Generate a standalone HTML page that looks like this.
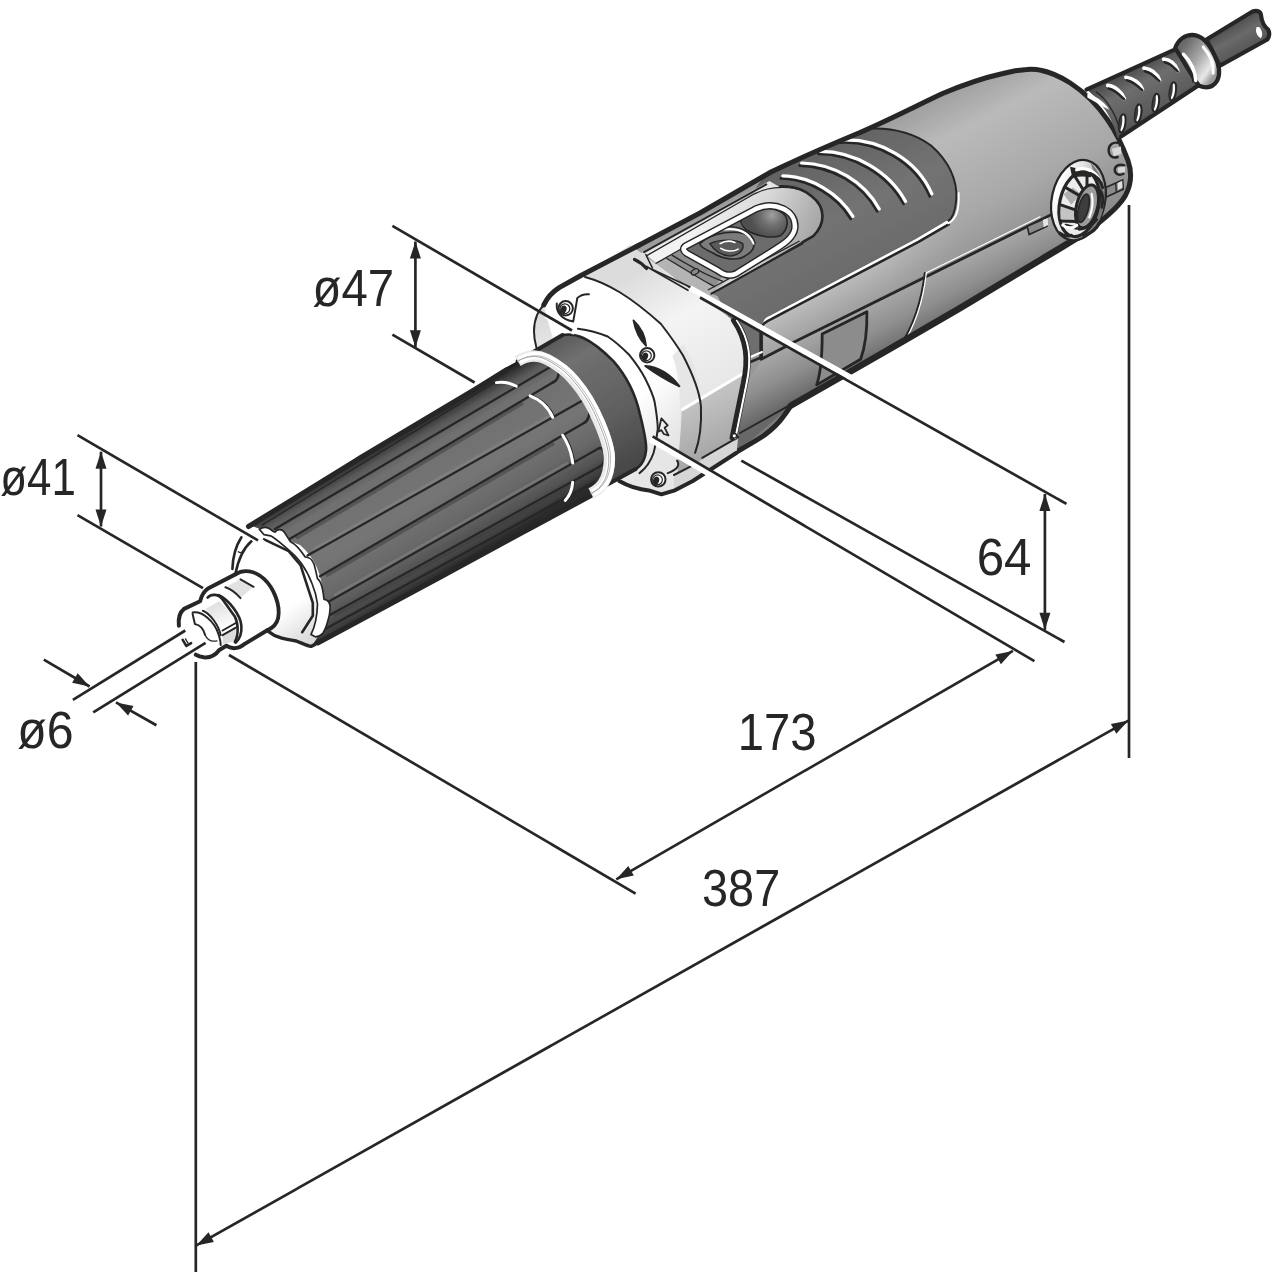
<!DOCTYPE html>
<html>
<head>
<meta charset="utf-8">
<title>Dimension drawing</title>
<style>
html,body{margin:0;padding:0;background:#fff;}
body{width:1280px;height:1277px;overflow:hidden;font-family:"Liberation Sans",sans-serif;}
svg{display:block;}
.dl{stroke:#272725;stroke-width:2.7;fill:none;stroke-linecap:butt;}
.wl{stroke:#fff;stroke-width:4.5;fill:none;stroke-linecap:butt;}
.ah{fill:#272725;stroke:none;}
.t{font-family:"Liberation Sans",sans-serif;font-size:52px;fill:#272725;}
.k{stroke:#272725;fill:none;stroke-linecap:round;stroke-linejoin:round;vector-effect:non-scaling-stroke;}
.k1{stroke-width:1.3;} .k2{stroke-width:2;} .k3{stroke-width:3;} .k4{stroke-width:4;}
.w{stroke:#fff;fill:none;stroke-linecap:round;stroke-linejoin:round;vector-effect:non-scaling-stroke;}
.ns{vector-effect:non-scaling-stroke;}
.bt{stroke-linecap:butt;}
</style>
</head>
<body>
<svg width="1280" height="1277" viewBox="0 0 1280 1277">
<defs>
<filter id="soft" x="0" y="0" width="1280" height="1277" filterUnits="userSpaceOnUse"><feGaussianBlur stdDeviation="0.45"/></filter>
<linearGradient id="gBody" gradientUnits="userSpaceOnUse" x1="900" y1="90" x2="1010" y2="300">
<stop offset="0" stop-color="#868686"/><stop offset="0.1" stop-color="#a0a0a0"/><stop offset="0.27" stop-color="#bababa"/><stop offset="0.6" stop-color="#a8a8a8"/><stop offset="1" stop-color="#7c7c7c"/></linearGradient>
<linearGradient id="gStrip" gradientUnits="userSpaceOnUse" x1="780" y1="290" x2="805" y2="335">
<stop offset="0" stop-color="#cfcfcf"/><stop offset="1" stop-color="#a2a2a2"/></linearGradient>
<linearGradient id="gPanel" gradientUnits="userSpaceOnUse" x1="850" y1="300" x2="880" y2="360">
<stop offset="0" stop-color="#b2b2b2"/><stop offset="0.6" stop-color="#8e8e8e"/><stop offset="1" stop-color="#686868"/></linearGradient>
<linearGradient id="gInlay" gradientUnits="userSpaceOnUse" x1="820" y1="150" x2="880" y2="270">
<stop offset="0" stop-color="#636363"/><stop offset="0.5" stop-color="#737373"/><stop offset="1" stop-color="#6a6a6a"/></linearGradient>
<clipPath id="cBody"><path d="M630,250 L700,213 L771,172 C800,158 830,145 860,132.5 C890,119.5 915,106.5 942,93.8 C965,84 985,77.5 1003,73.5 C1012,71 1020,69.8 1027,69.5 C1042,68 1056,74 1070.3,83 C1085,92.5 1098,106 1107.9,120.3 C1116,132 1123,147 1127.9,160.4 C1132,172 1131,185 1125.4,195.5 C1119,207 1105,218 1095.3,225.5 C1085,233 1072,241 1060.2,248.1 L960,308.2 L900.2,342.9 L840,377.5 L791,405.5 C788,410 786,413 783,417 C778,424 770,431 764,435.5 C755,441.5 745,447 738,451 L690,478 L640,440 Z"/></clipPath>
<linearGradient id="gFade" gradientUnits="userSpaceOnUse" x1="880" y1="270" x2="965" y2="225"><stop offset="0" stop-color="#fff"/><stop offset="1" stop-color="#000"/></linearGradient>
<mask id="mFade" maskUnits="userSpaceOnUse" x="600" y="0" width="680" height="600"><rect x="600" y="0" width="680" height="600" fill="url(#gFade)"/></mask>
<linearGradient id="gCable" gradientUnits="userSpaceOnUse" x1="1225" y1="25" x2="1245" y2="60">
<stop offset="0" stop-color="#4a4a4a"/><stop offset="0.4" stop-color="#6a6a6a"/><stop offset="1" stop-color="#4e4e4e"/></linearGradient>
<linearGradient id="gRelief" gradientUnits="userSpaceOnUse" x1="1130" y1="65" x2="1160" y2="120">
<stop offset="0" stop-color="#454545"/><stop offset="0.35" stop-color="#6e6e6e"/><stop offset="1" stop-color="#525252"/></linearGradient>
<linearGradient id="gRing" gradientUnits="userSpaceOnUse" x1="1180" y1="50" x2="1215" y2="75">
<stop offset="0" stop-color="#6a6a6a"/><stop offset="0.45" stop-color="#a8a8a8"/><stop offset="0.8" stop-color="#e8e8e8"/><stop offset="1" stop-color="#9a9a9a"/></linearGradient>
<linearGradient id="gBc" gradientUnits="userSpaceOnUse" x1="1054" y1="200" x2="1104" y2="205">
<stop offset="0" stop-color="#ffffff"/><stop offset="0.35" stop-color="#e4e4e4"/><stop offset="1" stop-color="#8e8e8e"/></linearGradient>
<linearGradient id="gFl" gradientUnits="userSpaceOnUse" x1="640" y1="270" x2="720" y2="420">
<stop offset="0" stop-color="#dcdcdc"/><stop offset="0.35" stop-color="#f4f4f4"/><stop offset="1" stop-color="#e2e2e2"/></linearGradient>
<linearGradient id="gFlSide" gradientUnits="userSpaceOnUse" x1="700" y1="400" x2="730" y2="470">
<stop offset="0" stop-color="#c2c2c2"/><stop offset="1" stop-color="#9c9c9c"/></linearGradient>
<linearGradient id="gFlFace" gradientUnits="userSpaceOnUse" x1="560" y1="300" x2="690" y2="420">
<stop offset="0" stop-color="#ffffff"/><stop offset="0.7" stop-color="#ffffff"/><stop offset="1" stop-color="#e6e6e6"/></linearGradient>
<linearGradient id="gGrip" gradientUnits="userSpaceOnUse" x1="360" y1="455" x2="433" y2="579">
<stop offset="0" stop-color="#1f1f1f"/><stop offset="0.04" stop-color="#353535"/><stop offset="0.1" stop-color="#585858"/><stop offset="0.2" stop-color="#707070"/>
<stop offset="0.5" stop-color="#757575"/><stop offset="0.72" stop-color="#6a6a6a"/><stop offset="0.86" stop-color="#555555"/><stop offset="0.95" stop-color="#3e3e3e"/><stop offset="1" stop-color="#2a2a2a"/></linearGradient>
<linearGradient id="gCollar" gradientUnits="userSpaceOnUse" x1="560" y1="330" x2="640" y2="470">
<stop offset="0" stop-color="#555555"/><stop offset="0.2" stop-color="#707070"/><stop offset="0.6" stop-color="#606060"/><stop offset="1" stop-color="#444444"/></linearGradient>
<linearGradient id="gCone" gradientUnits="userSpaceOnUse" x1="255" y1="560" x2="310" y2="640">
<stop offset="0" stop-color="#ffffff"/><stop offset="0.6" stop-color="#ffffff"/><stop offset="1" stop-color="#dadada"/></linearGradient>
<linearGradient id="gNut" gradientUnits="userSpaceOnUse" x1="225" y1="600" x2="245" y2="650">
<stop offset="0" stop-color="#e0e0e0"/><stop offset="0.5" stop-color="#ffffff"/><stop offset="1" stop-color="#c8c8c8"/></linearGradient>
<linearGradient id="gSur" gradientUnits="userSpaceOnUse" x1="700" y1="215" x2="800" y2="260">
<stop offset="0" stop-color="#f2f2f2"/><stop offset="0.5" stop-color="#d8d8d8"/><stop offset="1" stop-color="#a8a8a8"/></linearGradient>
<radialGradient id="gBtn" gradientUnits="userSpaceOnUse" cx="772" cy="215" r="22">
<stop offset="0" stop-color="#a0a0a0"/><stop offset="0.5" stop-color="#6e6e6e"/><stop offset="1" stop-color="#505050"/></radialGradient>
</defs>
<rect width="1280" height="1277" fill="#fff"/>
<g filter="url(#soft)">
<!-- 20_body.svg -->
<path d="M630,250 L700,213 L771,172 C800,158 830,145 860,132.5 C890,119.5 915,106.5 942,93.8 C965,84 985,77.5 1003,73.5 C1012,71 1020,69.8 1027,69.5 C1042,68 1056,74 1070.3,83 C1085,92.5 1098,106 1107.9,120.3 C1116,132 1123,147 1127.9,160.4 C1132,172 1131,185 1125.4,195.5 C1119,207 1105,218 1095.3,225.5 C1085,233 1072,241 1060.2,248.1 L960,308.2 L900.2,342.9 L840,377.5 L791,405.5 C788,410 786,413 783,417 C778,424 770,431 764,435.5 C755,441.5 745,447 738,451 L690,478 L640,440 Z" fill="url(#gBody)" stroke="none"/>
<g clip-path="url(#cBody)">
<g mask="url(#mFade)"><path d="M763.5 325.4C763.5 321.4 765.8 319.1 769.8 317.5L917.0 240.0L974.9 210.2L974.9 247.0L793.2 342.6L763.5 359.0Z" fill="url(#gStrip)" stroke="none"/></g>
<path d="M763.5,359.0 L793.2,342.6 L1053,213.8 L1073,242.7 L960,308.2 L900.2,342.9 L840,377.5 L791,405.5 L740,450 L700,440 Z" fill="url(#gPanel)" stroke="none"/>
<path d="M717,295 L766,322 L762,330 L762,352 L748,358 L735,330 Z" fill="#6e6e6e" stroke="none"/>
<path d="M719.3,296.9 L708.3,292.2 L802.3,243.6 C817.9,234.2 825.8,221.7 820.3,206.0 C814.8,191.9 794.4,185.7 780.4,187.5 C767.8,188.8 758.4,191.9 752.2,193.5 L768,170 L800,152 L840,134 L874,120 L874,128 C895.0,128.0 915.0,134.0 930.7,145.2 C948.2,160.3 958.2,180.3 956.2,200.4 C955.2,212.9 952.0,219.2 947.0,222.4 L765.3,323.2 Z" fill="url(#gInlay)" stroke="none"/>
<path class="k k2" d="M872,128.5 C895.0,128.0 915.0,134.0 930.7,145.2 C948.2,160.3 958.2,180.3 956.2,200.4 C955.2,212.9 952.0,219.2 947.0,222.4 "/>
<path class="w" d="M763.5 327.7C763.5 321.8 765.8 319.1 769.8 317.5L917.0 240.0 L947.0,222.4" stroke-width="3"/>
<path class="k" d="M761.1 358.2L761.1 330.8" stroke-width="3.6"/>
<path class="k" d="M761.1 330.8C761.6 324.3 765.1 321.8 771.3 319.1L918.5 241.9 L948.7,224.4" stroke-width="2.6"/>
<path class="w" d="M948.2,223.4 C956.2,219.2 959.5,210.4 958.7,192.9" stroke-width="1.8"/>
<g transform="translate(-0.9,1.1)"><path class="k" d="M781.6 177.3C810.4 177.8 838.0 195.4 851.7 217.9" stroke-width="2.6"/></g>
<g transform="translate(1.2,-1.5)"><path class="w" d="M781.6 177.3C810.4 177.8 838.0 195.4 851.7 217.9" stroke-width="3.2"/></g>
<g transform="translate(-0.9,1.1)"><path class="k" d="M800.4 164.5C833.0 165.3 863.0 182.8 878.1 210.4" stroke-width="2.6"/></g>
<g transform="translate(1.2,-1.5)"><path class="w" d="M800.4 164.5C833.0 165.3 863.0 182.8 878.1 210.4" stroke-width="3.2"/></g>
<g transform="translate(-0.9,1.1)"><path class="k" d="M819.2 152.8C853.0 152.8 888.1 172.8 904.4 202.9" stroke-width="2.6"/></g>
<g transform="translate(1.2,-1.5)"><path class="w" d="M819.2 152.8C853.0 152.8 888.1 172.8 904.4 202.9" stroke-width="3.2"/></g>
<g transform="translate(-0.9,1.1)"><path class="k" d="M841.7 141.5C878.1 140.2 915.6 160.3 930.7 195.4" stroke-width="2.6"/></g>
<g transform="translate(1.2,-1.5)"><path class="w" d="M841.7 141.5C878.1 140.2 915.6 160.3 930.7 195.4" stroke-width="3.2"/></g>
<path class="k" d="M761.1,359.3 L793.2,342.6 L1053,213.8" stroke-width="2.8"/>
<path class="w" d="M925,273.5 L1040,216.8" stroke-width="1.1"/>
<path class="k k2" d="M790,405 L740,433"/>
<path class="w" d="M748,358 L762,352" stroke-width="2"/>
<path class="k" d="M748,363 L762,357" stroke-width="2.6"/>
<path class="k k2" d="M924.8 272.9C923.2 287.0 918.5 318.3 899.7 346.5"/>
<g transform="translate(1.5,0.5)"><path class="w" d="M924.8 272.9C923.2 287.0 918.5 318.3 899.7 346.5" stroke-width="1.2"/></g>
<path d="M822.2 334.0L866.9 311.7C867.2 327.7 865.3 346.5 860.6 359.3L816.7 384.9C820.7 373.1 822.2 352.8 822.2 334.0Z" fill="#8c8c8c" stroke="none"/>
<path class="k" d="M822.2 334.0L866.9 311.7C867.2 327.7 865.3 346.5 860.6 359.3L816.7 384.9C820.7 373.1 822.2 352.8 822.2 334.0Z" stroke-width="2.8"/>
</g>
<path class="k" d="M630,250 L700,213 L771,172 C800,158 830,145 860,132.5 C890,119.5 915,106.5 942,93.8 C965,84 985,77.5 1003,73.5 C1012,71 1020,69.8 1027,69.5 C1042,68 1056,74 1070.3,83 C1085,92.5 1098,106 1107.9,120.3 C1116,132 1123,147 1127.9,160.4 C1132,172 1131,185 1125.4,195.5 C1119,207 1105,218 1095.3,225.5 C1085,233 1072,241 1060.2,248.1 L960,308.2 L900.2,342.9 L840,377.5 L791,405.5 C788,410 786,413 783,417 C778,424 770,431 764,435.5 C755,441.5 745,447 738,451 L690,478 L640,440 Z" stroke-width="5"/>
<path class="k" d="M1085,233 L1060.2,248.1 L960,308.2 L900.2,342.9 L840,377.5 L791,405.5" stroke-width="6.6"/>
<!-- 25_cap.svg -->
<path d="M1206.5 39.5L1252.5 11.5C1257.5 9.9 1260.8 11.5 1261.1 15.6C1261.6 21.4 1264.0 26.3 1268.2 29.6C1269.8 32.9 1269.0 37.0 1267.3 39.5L1219.6 65.8Z" fill="url(#gCable)" stroke="#272725" stroke-width="4.2" stroke-linejoin="round" class="ns"/>
<path d="M1256.6 27.1C1255.0 31.2 1256.6 36.2 1260.8 38.2C1263.2 35.4 1262.4 30.4 1259.1 27.1Z" fill="#fff" stroke="none"/>
<path d="M1175.2 49.3L1086.4 89.6C1099.6 98.7 1112.8 118.4 1117.7 138.1L1121.0 136.5L1198.3 85.5Z" fill="url(#gRelief)" stroke="none"/>
<path class="k" d="M1175.2 49.3L1086.4 89.6" stroke-width="4.2"/>
<path class="k" d="M1198.3 85.5L1121.0 136.5" stroke-width="4.2"/>
<path d="M1088.1 94.6C1094.7 96.2 1102.9 102.0 1107.0 107.7C1101.2 105.2 1094.7 100.3 1088.1 97.0Z" fill="#fff" stroke="#fff" stroke-width="1.5" class="ns"/>
<path class="k k1" d="M1096.3 92.1C1106.2 98.7 1114.4 111.8 1118.5 125.0"/>
<path class="w" d="M1107.8 85.5C1115.2 86.3 1121.8 92.1 1124.3 98.7" stroke-width="3.8"/>
<path class="k" d="M1108.6 88.5C1115.2 89.6 1120.2 95.4 1124.3 99.5" stroke-width="2.4"/>
<path class="w" d="M1125.9 77.3C1133.3 78.1 1139.9 83.0 1142.4 89.6" stroke-width="3.8"/>
<path class="k" d="M1126.7 80.3C1133.3 81.4 1138.2 86.3 1142.4 90.4" stroke-width="2.4"/>
<path class="w" d="M1144.0 68.2C1151.4 69.1 1157.2 74.0 1159.6 80.6" stroke-width="3.8"/>
<path class="k" d="M1144.8 71.2C1151.4 72.4 1155.5 77.3 1159.6 81.4" stroke-width="2.4"/>
<path class="w" d="M1163.7 59.2C1171.1 60.0 1175.2 64.1 1177.7 70.7" stroke-width="3.8"/>
<path class="k" d="M1164.6 62.2C1171.1 63.3 1173.6 67.4 1177.7 71.5" stroke-width="2.4"/>
<ellipse cx="1122.3" cy="123.3" rx="3.1" ry="9.2" transform="rotate(8 1122.3 123.3)" fill="#fff" stroke="#272725" stroke-width="2"/>
<ellipse cx="1120.7" cy="123.3" rx="1.3" ry="7" transform="rotate(8 1120.7 123.3)" fill="#3a3a3a"/>
<ellipse cx="1138.2" cy="113.5" rx="3.1" ry="9.2" transform="rotate(8 1138.2 113.5)" fill="#fff" stroke="#272725" stroke-width="2"/>
<ellipse cx="1136.6" cy="113.5" rx="1.3" ry="7" transform="rotate(8 1136.6 113.5)" fill="#3a3a3a"/>
<ellipse cx="1155.8" cy="102.8" rx="3.1" ry="9.2" transform="rotate(8 1155.8 102.8)" fill="#fff" stroke="#272725" stroke-width="2"/>
<ellipse cx="1154.2" cy="102.8" rx="1.3" ry="7" transform="rotate(8 1154.2 102.8)" fill="#3a3a3a"/>
<ellipse cx="1172.8" cy="91.3" rx="3.1" ry="9.2" transform="rotate(8 1172.8 91.3)" fill="#fff" stroke="#272725" stroke-width="2"/>
<ellipse cx="1171.2" cy="91.3" rx="1.3" ry="7" transform="rotate(8 1171.2 91.3)" fill="#3a3a3a"/>
<path d="M1175.2 48.0C1178.5 39.5 1185.1 34.9 1192.5 34.9C1201.6 35.4 1209.0 42.8 1214.7 55.9C1219.6 65.8 1220.5 74.0 1217.2 80.6C1213.1 87.2 1206.5 88.8 1199.1 85.8C1192.5 77.3 1183.5 60.8 1175.2 48.0Z" fill="url(#gRing)" stroke="#272725" stroke-width="4.2" stroke-linejoin="round" class="ns"/>
<path class="w" d="M1183.5 54.3C1190.0 60.8 1195.0 70.7 1195.8 80.6" stroke-width="3.4"/>
<path class="w" d="M1203.2 46.9C1209.8 54.3 1213.9 64.1 1213.1 73.2" stroke-width="3"/>
<path class="k k1" d="M1178.5 52.6C1185.1 59.2 1191.7 72.4 1193.0 82.2"/>
<path class="k" d="M1119.3 143.1C1112.8 141.4 1108.6 144.7 1108.6 150.5C1109.1 156.2 1112.8 158.7 1117.7 157.0" stroke-width="2.4"/>
<path class="k" d="M1124.3 165.3C1118.5 163.6 1114.7 166.1 1114.7 170.2C1115.2 174.6 1119.3 175.6 1123.4 174.0" stroke-width="2.4"/>
<path d="M1111.9 148.8L1121.0 146.4L1121.3 153.8L1113.6 156.2Z" fill="#d8d8d8" stroke="none"/>
<path d="M1117.7 167.7L1125.1 166.4L1125.1 171.8L1118.5 173.0Z" fill="#d8d8d8" stroke="none"/>
<path d="M1105.7 187.6L1122.7 179.9L1123.3 189.3L1106.3 197.0Z" fill="#8a8a8a" stroke="#272725" stroke-width="1.6" class="ns"/>
<path class="k k1" d="M1115.7 183.4L1116.3 192.3"/>
<path d="M1117.5 182.9L1122.2 180.7L1122.5 187.6L1118.1 189.7Z" fill="#e0e0e0" stroke="none"/>
<path d="M1027.3 226.3L1045.8 218.1L1047.0 226.3L1029.1 234.5Z" fill="#8a8a8a" stroke="#272725" stroke-width="1.6" class="ns"/>
<path d="M1042.9 219.9L1047.6 217.9L1048.2 225.1L1043.7 227.3Z" fill="#e6e6e6" stroke="none"/>
<ellipse cx="1078.4" cy="200.1" rx="26.6" ry="40.7" transform="rotate(12 1078.4 200.1)" fill="url(#gBc)" stroke="#272725" stroke-width="2.3"/>
<path d="M1090.1 162.5C1099.5 170.4 1105.0 185.2 1104.2 200.9C1103.4 214.2 1097.9 226.7 1088.6 234.6C1094.8 220.5 1097.9 204.8 1096.4 189.2C1095.6 179.8 1094.0 170.4 1090.1 162.5Z" fill="#7a7a7a" stroke="none"/>
<ellipse cx="1079.2" cy="204.0" rx="19.5" ry="33" transform="rotate(12 1079.2 204.0)" fill="#ececec" stroke="#272725" stroke-width="3.2"/>
<path d="M1063.5 193.9L1072.9 187.6L1080.7 193.9L1071.3 204.8Z" fill="#b0b0b0" stroke="none"/>
<path d="M1061.1 206.4L1076.8 211.1L1075.2 220.5L1060.4 218.9Z" fill="#c4c4c4" stroke="none"/>
<path class="k" d="M1065.8 187.6L1083.9 198.2" stroke-width="3"/>
<path class="k" d="M1061.5 205.2L1077.6 210.7" stroke-width="3"/>
<path class="k" d="M1060.5 220.9L1076.8 221.4" stroke-width="3"/>
<path class="k" d="M1074.5 175.8L1083.9 190.7" stroke-width="3"/>
<path class="k" d="M1087.0 175.8L1087.0 187.6" stroke-width="3"/>
<path class="k" d="M1065.8 225.2L1076.8 228.3" stroke-width="3"/>
<ellipse cx="1087.0" cy="206.4" rx="10.5" ry="22" transform="rotate(14 1087.0 206.4)" fill="#9c9c9c" stroke="#272725" stroke-width="3"/>
<ellipse cx="1083.5" cy="208.3" rx="5" ry="14.5" transform="rotate(14 1083.5 208.3)" fill="#3c3c3c" stroke="#272725" stroke-width="1.6"/>
<path class="w" d="M1091.7 193.9C1093.2 200.9 1092.5 209.5 1089.3 217.3" stroke-width="2.2"/>
<path d="M1070.9 167.6L1075.2 168.8L1074.5 172.3C1080.7 171.1 1087.0 171.5 1090.9 173.5L1090.1 176.6C1083.9 175.1 1077.6 175.8 1072.9 177.0Z" fill="#272725" stroke="#272725" stroke-width="1.5" stroke-linejoin="round" class="ns"/>
<path class="w" d="M1076.8 169.6C1085.4 166.8 1094.8 170.4 1100.3 181.3" stroke-width="3.4"/>
<path class="k" d="M1090.1 173.5C1096.4 175.8 1101.1 181.3 1102.6 187.6" stroke-width="3"/>
<path class="k" d="M1059.6 233.0C1062.7 235.7 1067.4 236.5 1071.3 235.4" stroke-width="3.2"/>
<path class="w" d="M1062.7 225.2C1066.6 228.3 1072.9 229.1 1076.8 225.2" stroke-width="3"/>
<path class="k" d="M1079.2 229.1C1085.4 228.3 1091.7 225.2 1096.4 219.7" stroke-width="3.2"/>
<path class="k" d="M1083.9 235.4C1090.1 233.8 1096.4 229.1 1099.5 222.8" stroke-width="3.4"/>
<path class="k" d="M1100.3 190.7C1102.6 193.9 1103.4 200.1 1101.9 207.2" stroke-width="3"/>
<!-- 30_switch.svg -->
<path d="M633.1 257.7L769.4 181.0L780.4 187.5C767.8 188.8 758.4 191.9 752.2 193.5L648.8 255.4Z" fill="#e6e6e6" stroke="none"/>
<path d="M645.7 254.6L753.7 193.5C771.0 184.9 796.0 184.1 811.7 195.8C825.8 206.8 825.8 223.2 813.2 235.8L724.0 285.9L711.4 293.7L691.9 291.4Z" fill="url(#gSur)" stroke="none"/>
<path d="M653.5 264.0L681.7 248.3L730.2 278.1L711.4 293.7L691.9 291.4Z" fill="#b4b4b4" stroke="none"/>
<path d="M666.8 258.5L683.2 249.1L724.0 274.2L714.6 286.7Z" fill="#8e8e8e" stroke="none"/>
<path class="k k2" d="M644.1 252.2L766.3 184.4"/>
<path class="k k1" d="M647.2 255.4L754.5 193.8C771.0 185.2 796.0 184.4 811.7 196.2C825.8 207.1 825.8 223.6 813.2 236.1L717.7 290.6"/>
<path class="k" d="M780.4 186.3C792.9 185.7 803.8 189.6 811.7 196.2C825.8 207.1 825.8 223.6 813.2 236.1L802.3 242.4" stroke-width="2.6"/>
<path class="k k1" d="M653.5 264.8L755.3 206.8"/>
<path class="k k2" d="M711.4 293.7L802.3 243.6"/>
<path class="k k1" d="M708.3 289.8L799.1 241.3"/>
<path class="k k2" d="M653.5 264.8L692.6 290.6"/>
<path class="k k1" d="M666.8 258.5C681.7 267.1 700.5 279.6 714.6 286.7"/>
<path class="k k1" d="M672.3 255.4C686.4 264.0 705.2 274.9 722.4 281.2"/>
<path class="k k1" d="M651.9 270.2L689.5 292.2"/>
<ellipse cx="695.0" cy="271.8" rx="4" ry="2.6" transform="rotate(-30 695.0 271.8)" fill="#888" stroke="#272725" stroke-width="1.3"/>
<path d="M685.1 246.4L755.3 209.2C774.1 200.5 796.8 209.9 794.8 228.3C793.5 237.7 784.3 243.9 771.7 251.4L736.5 273.4C730.2 276.8 724.0 275.2 717.7 270.5L686.7 253.3C682.9 250.5 682.9 248.3 685.1 246.4Z" fill="#6c6c6c" stroke="none"/>
<path d="M742.0 215.4C749.0 206.8 771.0 205.2 782.7 213.1C789.7 218.6 788.2 229.5 780.4 235.8C771.0 238.9 755.3 235.8 745.9 229.5C740.4 224.8 739.6 219.3 742.0 215.4Z" fill="url(#gBtn)" stroke="#272725" stroke-width="1.6"/>
<path d="M699.7 243.6C711.4 232.6 739.6 227.9 750.6 237.3C756.9 243.6 753.7 251.4 745.9 255.4C738.1 261.6 722.4 259.3 713.0 253.0C706.7 249.9 700.5 247.5 699.7 243.6Z" fill="#7c7c7c" stroke="#272725" stroke-width="1.6"/>
<path class="w" d="M724.0 229.5C738.1 227.9 749.0 232.6 753.7 243.6" stroke-width="2.2"/>
<path class="k k1" d="M722.4 227.2C738.1 224.8 752.2 231.1 755.3 243.6"/>
<path d="M709.9 243.6C719.3 238.9 736.5 238.9 742.8 243.6C744.3 249.9 739.6 254.6 730.2 256.1C722.4 255.4 714.6 251.4 709.9 243.6Z" fill="#5a5a5a" stroke="#272725" stroke-width="1.4"/>
<path class="w" d="M720.1 243.6C724.0 241.3 730.2 240.5 734.9 242.4" stroke-width="1.6"/>
<path class="w" d="M720.8 248.3C725.5 251.4 733.4 252.2 738.1 249.1" stroke-width="1.6"/>
<path class="k" d="M685.1 246.4L755.3 209.2C774.1 200.5 796.8 209.9 794.8 228.3C793.5 237.7 784.3 243.9 771.7 251.4L736.5 273.4C730.2 276.8 724.0 275.2 717.7 270.5L686.7 253.3C682.9 250.5 682.9 248.3 685.1 246.4Z" stroke-width="7.5"/>
<path class="w" d="M685.1 246.4L755.3 209.2C774.1 200.5 796.8 209.9 794.8 228.3C793.5 237.7 784.3 243.9 771.7 251.4L736.5 273.4C730.2 276.8 724.0 275.2 717.7 270.5L686.7 253.3C682.9 250.5 682.9 248.3 685.1 246.4Z" stroke-width="4.6"/>
<!-- 40_flange.svg -->
<path d="M534.5 337.8C535.0 317.7 540.0 305.2 548.8 296.4L630.3 245.1L733.0 320.2C746.8 340.3 748.0 360.3 743.0 382.9L731.7 438.0L695.4 478.1L671.6 493.1C660.3 495.6 647.8 491.9 620.2 481.9L545.1 420.5Z" fill="url(#gFl)" stroke="none"/>
<path d="M543.5 305.2C546.6 298.9 551.3 292.6 559.2 287.9L585.0 277.0C607.7 283.2 629.6 295.8 661.0 324.0C671.9 338.1 678.2 347.5 682.9 355.3 C689.6 368.2 699.0 387.0 700.9 405.8C701.8 424.6 699.8 440.2 695.1 452.8L677.1 488.8L648.9 490.4L619.2 481.0L580.0 434.0Z" fill="url(#gFlFace)" stroke="none"/>
<path d="M672.4 355.7C677.9 371.3 680.2 387.0 680.2 412.0C680.2 434.0 678.7 449.6 677.1 460.6L695.1 452.8C700.6 434.0 701.4 410.5 700.6 394.8C699.0 376.0 692.8 358.8 683.4 344.7Z" fill="#e4e4e4" stroke="none" opacity="0.9"/>
<path d="M681.8 411.3L746.0 372.9L736.6 405.8L730.4 435.5L736.6 452.8L692.8 481.0L677.1 488.8L677.9 460.6C680.2 441.8 681.0 426.1 681.8 411.3Z" fill="url(#gFlSide)" stroke="none"/>
<path class="w" d="M682.6 409.4L746.0 371.8" stroke-width="3"/>
<path d="M674.0 474.7L692.8 465.3L738.2 437.1L736.6 452.8L692.8 481.0L674.0 490.4Z" fill="#d6d6d6" stroke="none"/>
<path class="k k2" d="M585.0 277.0C607.7 283.2 629.6 295.8 661.0 324.0C671.9 338.1 678.2 347.5 682.9 355.3 C689.6 368.2 699.0 387.0 700.9 405.8C701.8 424.6 699.8 440.2 695.1 452.8"/>
<path class="k k2" d="M577.9 328.7C588.9 330.2 598.3 332.6 607.7 336.5C617.1 342.8 623.4 349.0 629.6 355.3C635.9 363.1 641.4 371.0 645.3 378.8C650.0 388.2 653.1 394.4 654.7 402.3C656.3 411.7 657.8 422.6 657.8 430.0 C657.5 427.7 656.7 441.8 653.6 452.8C650.5 462.2 645.8 468.4 639.5 473.1"/>
<path class="k k2" d="M536.4 347.5C533.3 336.5 533.3 324.0 537.2 314.6C539.6 309.9 541.9 306.7 543.8 304.9"/>
<path class="k" d="M543.8 304.9C546.6 298.9 551.3 292.6 559.2 287.6L580.0 276.0L639.0 245.2" stroke-width="5"/>
<path class="k" d="M619.2 481.0C630.1 487.2 639.5 489.6 648.9 490.4L661.4 494.3L674.0 490.7L692.8 481.0L736.6 452.8" stroke-width="4"/>
<path class="k k2" d="M674.0 475.0L692.8 465.3"/>
<path class="k k2" d="M702.2 457.8L738.2 437.1"/>
<path class="k k2" d="M677.1 460.6C680.2 465.3 677.1 470.0 667.7 473.1"/>
<g transform="translate(3.2,0.3)"><path class="k" d="M733.0 320.2C746.8 340.3 748.0 360.3 743.0 382.9L731.7 438.0" stroke-width="4"/></g>
<g transform="translate(3.6,0.3)"><path class="w" d="M733.0 320.2C746.8 340.3 748.0 360.3 743.0 382.9L731.7 438.0" stroke-width="2"/></g>
<path class="k" d="M733.0 320.2C746.8 340.3 748.0 360.3 743.0 382.9L731.7 438.0" stroke-width="4.4"/>
<circle cx="734.3" cy="435.8" r="2.3" fill="#fff" stroke="#272725" stroke-width="1.4"/>
<circle cx="565.7" cy="308.3" r="7.2" fill="#fff" stroke="#272725" stroke-width="2"/>
<ellipse cx="563.5" cy="309.5" rx="3.0" ry="4.0" fill="#272725" transform="rotate(20 563.5 309.5)"/>
<circle cx="564.9" cy="308.7" r="4.9" fill="none" stroke="#272725" stroke-width="1.2"/>
<circle cx="647.2" cy="355.3" r="7.2" fill="#fff" stroke="#272725" stroke-width="2"/>
<ellipse cx="645.0" cy="356.5" rx="3.0" ry="4.0" fill="#272725" transform="rotate(20 645.0 356.5)"/>
<circle cx="646.4" cy="355.7" r="4.9" fill="none" stroke="#272725" stroke-width="1.2"/>
<circle cx="658.3" cy="479.4" r="7.2" fill="#fff" stroke="#272725" stroke-width="2"/>
<ellipse cx="656.1" cy="480.6" rx="3.0" ry="4.0" fill="#272725" transform="rotate(20 656.1 480.6)"/>
<circle cx="657.5" cy="479.8" r="4.9" fill="none" stroke="#272725" stroke-width="1.2"/>
<path d="M633.5 320.5C640.6 327.1 645.3 336.5 646.1 345.9C639.8 339.6 635.6 331.8 633.5 320.5Z" fill="#272725" stroke="#272725" stroke-width="1.8" stroke-linejoin="round"/>
<path d="M645.3 365.9C658.6 366.6 671.1 374.9 679.4 386.3C667.2 380.4 656.3 374.1 645.3 365.9Z" fill="#272725" stroke="#272725" stroke-width="2" stroke-linejoin="round"/>
<path class="k k2" d="M577.2 298.1C580.3 295.0 584.2 293.9 588.9 294.2"/>
<path class="k k2" d="M556.8 303.6C556.0 311.4 560.7 319.3 573.2 321.6L577.2 298.9"/>
<path class="k" d="M634.5,259.5 C639,261.5 643,264.5 646.5,268.5" stroke-width="3.2"/>
<path class="k" d="M652.4,269.5 L692.8,288.3" stroke-width="1.8"/>
<path class="k" d="M646.5,266.5 L688,290.2" stroke-width="1.8"/>
<path class="k" d="M645.8,254.5 L652.4,268" stroke-width="1.6"/>
<path class="k" d="M661.4 418.3L667.7 425.4L664.6 427.7L668.5 435.5L663.8 434.0L661.4 430.1L658.3 431.6Z" stroke-width="1.8"/>
<!-- 50_grip.svg -->
<path d="M517.7 361.1L562.5 335.0C574.7 332.6 589.0 336.6 613.4 361.1C627.7 377.4 635.8 395.7 639.9 414.0C644.0 430.3 647.0 442.5 646.0 450.7C645.0 460.8 640.9 465.9 635.8 469.0L591.0 493.4C615.5 462.9 582.9 367.2 517.7 361.1Z" fill="url(#gCollar)" stroke="none"/>
<path class="k" d="M562.5 335.0C574.7 332.6 589.0 336.6 613.4 361.1C627.7 377.4 635.8 395.7 639.9 414.0C644.0 430.3 647.0 442.5 646.0 450.7C645.0 460.8 640.9 465.9 635.8 469.0" stroke-width="2.6"/>
<path class="k" d="M517.7 361.1L562.5 335.0" stroke-width="4"/>
<path class="k" d="M591.0 493.4L635.8 469.0" stroke-width="4"/>
<path d="M248.5,524.5 L360,456 L474,388 L505,368 L517.7 361.1C527.9 355.0 538.1 355.0 546.2 359.0C558.4 365.2 566.6 371.3 574.7 381.4C587.0 395.7 593.1 407.9 599.2 422.2C605.3 436.4 609.4 448.6 609.4 458.8C609.4 469.0 607.3 477.1 603.2 483.2C600.2 488.3 595.1 491.4 591.0 493.4 L591,497 L520,535.3 L437.7,580 L317.7,644.6 L300,640 C330,620 330,570 300,545 Z" fill="url(#gGrip)" stroke="none"/>
<line class="k" stroke-width="1.4" x1="262.0" y1="525.1" x2="497.0" y2="380.8"/>
<line class="k" stroke-width="2.3" x1="275.0" y1="529.0" x2="552.0" y2="365.9"/>
<line class="k" stroke-width="2.3" x1="290.0" y1="538.8" x2="553.0" y2="382.3"/>
<line class="k" stroke-width="2.3" x1="307.5" y1="555.6" x2="583.0" y2="400.2"/>
<line class="k" stroke-width="2.3" x1="320.0" y1="576.3" x2="584.0" y2="422.9"/>
<line class="k" stroke-width="2.3" x1="328.0" y1="601.9" x2="598.0" y2="448.8"/>
<line class="k" stroke-width="2.3" x1="328.0" y1="615.9" x2="599.0" y2="466.9"/>
<line class="k" stroke-width="2.3" x1="322.0" y1="630.8" x2="594.0" y2="482.3"/>
<path class="k" d="M553.0,365.3 C560.0,363.3 561.0,379.3 553.0,382.3" stroke-width="2.6"/>
<path class="k" d="M584.0,399.6 C591.0,397.6 592.0,419.9 584.0,422.9" stroke-width="2.6"/>
<path class="k" d="M599.0,448.2 C606.0,446.2 607.0,463.9 599.0,466.9" stroke-width="2.6"/>
<line stroke="#8a8a8a" stroke-opacity="0.5" stroke-width="3" x1="313.5" y1="549.2" x2="553.0" y2="414.1"/>
<line stroke="#8a8a8a" stroke-opacity="0.5" stroke-width="3" x1="334.0" y1="595.5" x2="568.0" y2="462.8"/>
<line stroke="#3c3c3c" stroke-opacity="0.5" stroke-width="3.5" x1="296.0" y1="538.2" x2="523.0" y2="403.1"/>
<line stroke="#3c3c3c" stroke-opacity="0.5" stroke-width="3.5" x1="326.0" y1="575.8" x2="554.0" y2="443.3"/>
<line stroke="#3c3c3c" stroke-opacity="0.5" stroke-width="3.5" x1="334.0" y1="615.6" x2="569.0" y2="486.4"/>
<g transform="translate(1.6,-0.6)"><path class="k" d="M530.1,395.9 Q546.0,402.0 552.7,417.3" stroke-width="1.6"/></g>
<path class="w" d="M530.1,395.9 Q546.0,402.0 552.7,417.3" stroke-width="3"/>
<g transform="translate(1.6,-0.6)"><path class="k" d="M562.7,435.3 Q571.0,448.0 572.7,463.1" stroke-width="1.6"/></g>
<path class="w" d="M562.7,435.3 Q571.0,448.0 572.7,463.1" stroke-width="3"/>
<g transform="translate(1.6,-0.6)"><path class="k" d="M572.7,482.3 Q572.0,493.0 565.2,500.4" stroke-width="1.6"/></g>
<path class="w" d="M572.7,482.3 Q572.0,493.0 565.2,500.4" stroke-width="3"/>
<path class="w" d="M496.3,382.6 Q507,381 516.4,386.3" stroke-width="2.8"/>
<path class="k" d="M248.5,526.5 L360,458 L474,390 L506,370" stroke-width="5"/>
<path class="k" d="M317.7,643 L437.7,578.5 L520,533.8 L591,495.5" stroke-width="5"/>
<path class="bt ns" d="M517.7 361.1C527.9 355.0 538.1 355.0 546.2 359.0C558.4 365.2 566.6 371.3 574.7 381.4C587.0 395.7 593.1 407.9 599.2 422.2C605.3 436.4 609.4 448.6 609.4 458.8C609.4 469.0 607.3 477.1 603.2 483.2C600.2 488.3 595.1 491.4 591.0 493.4" stroke="#e9e9e9" stroke-width="11.4" fill="none"/>
<g transform="translate(1.6,-0.6)"><path class="bt ns" d="M517.7 361.1C527.9 355.0 538.1 355.0 546.2 359.0C558.4 365.2 566.6 371.3 574.7 381.4C587.0 395.7 593.1 407.9 599.2 422.2C605.3 436.4 609.4 448.6 609.4 458.8C609.4 469.0 607.3 477.1 603.2 483.2C600.2 488.3 595.1 491.4 591.0 493.4" stroke="#ffffff" stroke-width="7.6" fill="none"/></g>
<g transform="translate(-0.6,0.3)"><path class="bt ns" d="M517.7 361.1C527.9 355.0 538.1 355.0 546.2 359.0C558.4 365.2 566.6 371.3 574.7 381.4C587.0 395.7 593.1 407.9 599.2 422.2C605.3 436.4 609.4 448.6 609.4 458.8C609.4 469.0 607.3 477.1 603.2 483.2C600.2 488.3 595.1 491.4 591.0 493.4" stroke="#9a9a9a" stroke-width="0.9" fill="none"/></g>
<g transform="translate(1.2,-0.5)"><path class="bt ns" d="M517.7 361.1C527.9 355.0 538.1 355.0 546.2 359.0C558.4 365.2 566.6 371.3 574.7 381.4C587.0 395.7 593.1 407.9 599.2 422.2C605.3 436.4 609.4 448.6 609.4 458.8C609.4 469.0 607.3 477.1 603.2 483.2C600.2 488.3 595.1 491.4 591.0 493.4" stroke="#a8a8a8" stroke-width="0.8" fill="none"/></g>
<!-- 60_nose.svg -->
<path d="M261.8 536.3C252.4 539.2 243.0 547.0 236.7 559.5C233.6 565.8 232.4 570.5 233.6 575.2L268.1 631.6C279.0 638.6 293.1 641.0 310.4 646.4C326.0 633.1 326.0 600.2 310.4 575.2C297.8 554.8 280.6 540.7 261.8 536.3Z" fill="url(#gCone)" stroke="none"/>
<path d="M259.4 529.4C262.9 526.4 267.6 527.0 270.5 529.4C272.3 531.1 274.0 532.3 275.2 532.1C277.0 528.8 281.7 528.8 284.0 531.7C286.4 535.3 288.7 539.4 290.5 541.7C295.8 544.1 300.5 549.9 305.2 557.0C308.7 557.0 312.2 559.3 314.0 564.0C315.7 569.9 316.9 575.8 317.5 578.7C320.4 580.5 322.8 587.5 324.0 599.3C327.5 599.3 330.4 602.8 330.1 607.5C329.8 612.2 329.8 615.7 328.1 619.8C326.9 625.1 325.1 629.8 322.8 633.3C320.4 635.7 318.1 636.6 315.7 636.9L311.0 634.5C314.6 627.5 317.2 615.7 317.5 604.0C316.3 594.6 314.6 589.9 312.2 584.0C309.3 575.8 305.2 568.7 301.1 562.9C297.5 558.2 293.4 554.0 289.9 551.1C282.9 545.2 276.4 538.8 270.5 535.8L264.1 534.7Z" fill="#fff" stroke="#272725" stroke-width="1.7" stroke-linejoin="round" class="ns"/>
<path class="k" d="M264.1 539.4L288.7 551.1L300.5 565.2L312.8 602.8L312.8 615.7L302.2 632.2" stroke-width="2.6"/>
<path class="k" d="M241.4 537.3C235.2 547.0 232.8 556.4 232.4 568.9" stroke-width="2.6"/>
<path class="k" d="M251.6 541.0C243.0 548.6 238.3 559.5 235.5 573.6" stroke-width="2.6"/>
<path class="k k1" d="M238.3 551.7C241.4 554.0 243.0 551.7 245.4 547.0"/>
<path class="k" d="M268.1 631.2C275.9 637.8 285.3 639.4 296.3 641.0C302.5 643.3 307.2 645.7 311.1 646.4C315.1 644.9 316.6 643.3 318.2 641.0" stroke-width="3.4"/>
<path d="M235.8 574.1C243.3 568.9 254.6 570.3 264.0 578.8C273.4 587.3 280.9 605.1 278.1 618.3C276.7 623.9 273.4 627.7 267.7 630.0L243.3 644.6C239.5 648.3 233.9 648.3 230.1 645.5L222.6 648.3C215.1 655.8 207.6 658.2 201.0 656.8L195.8 654.9L179.4 625.8C178.0 618.3 181.3 610.7 188.8 607.9L200.1 601.3C201.5 596.6 203.8 591.9 208.5 588.2Z" fill="#ffffff" stroke="none"/>
<path d="M225.4 587.3L240.5 579.3L253.6 586.8L240.5 598.1Z" fill="#e2e2e2" stroke="none"/>
<path d="M205.7 608.9L218.9 601.3L234.8 616.4L235.8 623.0L222.6 630.5Z" fill="url(#gNut)" stroke="none"/>
<path d="M222.6 635.2L235.8 627.7L235.3 640.8L222.6 644.6Z" fill="#dcdcdc" stroke="none"/>
<path class="k" d="M235.8 574.1C243.3 568.9 254.6 570.3 264.0 578.8C273.4 587.3 280.9 605.1 278.1 618.3C276.7 623.9 273.4 627.7 267.7 630.0" stroke-width="3.8"/>
<path class="k" d="M235.8 574.1L208.5 588.2C202.9 591.9 201.0 597.6 200.1 601.3L184.1 608.9C179.4 612.6 178.3 620.1 178.9 625.8" stroke-width="4"/>
<path class="k" d="M267.7 630.0L245.2 643.6C241.4 646.9 237.7 648.3 233.9 648.3C231.1 647.9 228.3 646.9 226.4 645.7L219.3 650.0C215.6 654.9 209.5 657.9 203.8 657.3C200.1 656.8 197.7 655.8 195.8 654.7" stroke-width="4"/>
<path class="k" d="M207.6 597.6C211.3 593.6 218.9 593.8 222.6 599.5L234.8 616.4C238.6 623.9 238.6 635.2 234.8 641.8" stroke-width="2.6"/>
<path class="k" d="M218.9 595.2C228.3 599.5 240.5 614.5 241.4 625.8C241.9 633.3 239.5 638.9 235.8 642.7" stroke-width="2.6"/>
<path class="k k2" d="M222.6 630.5L235.8 623.0"/>
<path class="k k2" d="M222.6 635.2L235.8 627.7"/>
<path class="k k2" d="M192.6 612.6C201.0 610.7 214.2 620.1 218.9 635.2C220.3 639.9 220.7 642.7 220.7 645.0"/>
<path class="k k2" d="M202.9 610.7C210.4 613.6 218.9 625.8 220.7 635.2"/>
<path class="k k2" d="M192.6 614.0L194.9 623.9C200.1 624.8 203.8 629.5 205.0 634.7"/>
<path class="k k1" d="M205.0 634.7C207.6 640.8 212.3 641.8 217.0 640.8"/>
<path class="k k2" d="M225.4 587.3C231.1 589.1 236.7 593.8 240.5 598.1"/>
<path class="k k2" d="M240.5 579.3L253.6 586.8"/>
<path class="k" d="M182.7 639.9L186.4 646.0L191.1 643.2" stroke-width="2.6"/>
<path class="k k1" d="M185.5 638.9L188.3 643.6"/>
<!-- 90_dims.svg -->
<g id="dims">
<line class="wl" style="stroke-width:6" x1="546.0" y1="315.3" x2="575.0" y2="332.2"/>
<line class="wl" style="stroke-width:6" x1="249.0" y1="535.1" x2="263.0" y2="543.3"/>
<line class="wl" style="stroke-width:5.6" x1="690.0" y1="287.9" x2="853.0" y2="378.8"/>
<line class="wl" style="stroke-width:5.4" x1="650.0" y1="439.3" x2="722.0" y2="481.6"/>
<line class="dl" x1="195.8" y1="662.0" x2="195.8" y2="1272.0"/>
<line class="dl" x1="1129.0" y1="205.0" x2="1129.0" y2="758.0"/>
<line class="dl" x1="196.4" y1="1245.4" x2="1128.4" y2="720.6"/>
<line class="dl" x1="616.3" y1="879.3" x2="1012.9" y2="650.9"/>
<line class="dl" x1="229.0" y1="655.0" x2="635.6" y2="893.6"/>
<line class="dl" x1="1044.9" y1="494.0" x2="1044.9" y2="629.8"/>
<line class="dl" x1="392.4" y1="225.8" x2="572.0" y2="330.5"/>
<line class="dl" x1="392.4" y1="334.7" x2="474.6" y2="382.5"/>
<line class="dl" x1="415.4" y1="241.5" x2="415.4" y2="347.2"/>
<line class="dl" x1="77.5" y1="435.2" x2="258.0" y2="540.3"/>
<line class="dl" x1="77.5" y1="515.1" x2="203.0" y2="588.2"/>
<line class="dl" x1="101.0" y1="451.7" x2="101.0" y2="526.5"/>
<line class="dl" x1="72.9" y1="699.8" x2="185.3" y2="630.5"/>
<line class="dl" x1="93.2" y1="712.4" x2="205.6" y2="642.8"/>
<line class="dl" x1="43.8" y1="659.7" x2="89.6" y2="686.5"/>
<line class="dl" x1="156.4" y1="725.2" x2="116.0" y2="702.4"/>
<line class="dl" x1="700.0" y1="297.5" x2="1066.5" y2="503.9"/>
<line class="dl" x1="741.3" y1="460.6" x2="1064.5" y2="642.0"/>
<line class="dl" x1="652.6" y1="436.3" x2="1034.4" y2="661.1"/>
<polygon class="ah" points="196.4,1245.4 208.5,1232.3 213.9,1241.9"/>
<polygon class="ah" points="1128.4,720.6 1116.3,733.7 1110.9,724.1"/>
<polygon class="ah" points="616.3,879.3 628.3,866.0 633.8,875.6"/>
<polygon class="ah" points="1012.9,650.9 1000.9,664.2 995.4,654.6"/>
<polygon class="ah" points="1044.9,494.0 1050.4,511.0 1039.4,511.0"/>
<polygon class="ah" points="1044.9,629.8 1039.4,612.8 1050.4,612.8"/>
<polygon class="ah" points="415.4,241.5 420.9,258.5 409.9,258.5"/>
<polygon class="ah" points="415.4,347.2 409.9,330.2 420.9,330.2"/>
<polygon class="ah" points="101.0,451.7 106.5,468.7 95.5,468.7"/>
<polygon class="ah" points="101.0,526.5 95.5,509.5 106.5,509.5"/>
<polygon class="ah" points="89.6,686.5 72.1,682.7 77.7,673.2"/>
<polygon class="ah" points="116.0,702.4 133.5,706.0 128.1,715.5"/>
</g>
<g id="labels">
<text class="t" transform="translate(312.6,305.5) scale(0.910,1)">ø47</text>
<text class="t" transform="translate(0.3,495.2) scale(0.844,1)">ø41</text>
<text class="t" transform="translate(17.3,748.1) scale(0.928,1)">ø6</text>
<text class="t" transform="translate(976.7,575.1) scale(0.948,1)">64</text>
<text class="t" transform="translate(737.8,749.8) scale(0.908,1)">173</text>
<text class="t" transform="translate(702.1,906.4) scale(0.900,1)">387</text>
</g>
</g>
</svg>
</body>
</html>
